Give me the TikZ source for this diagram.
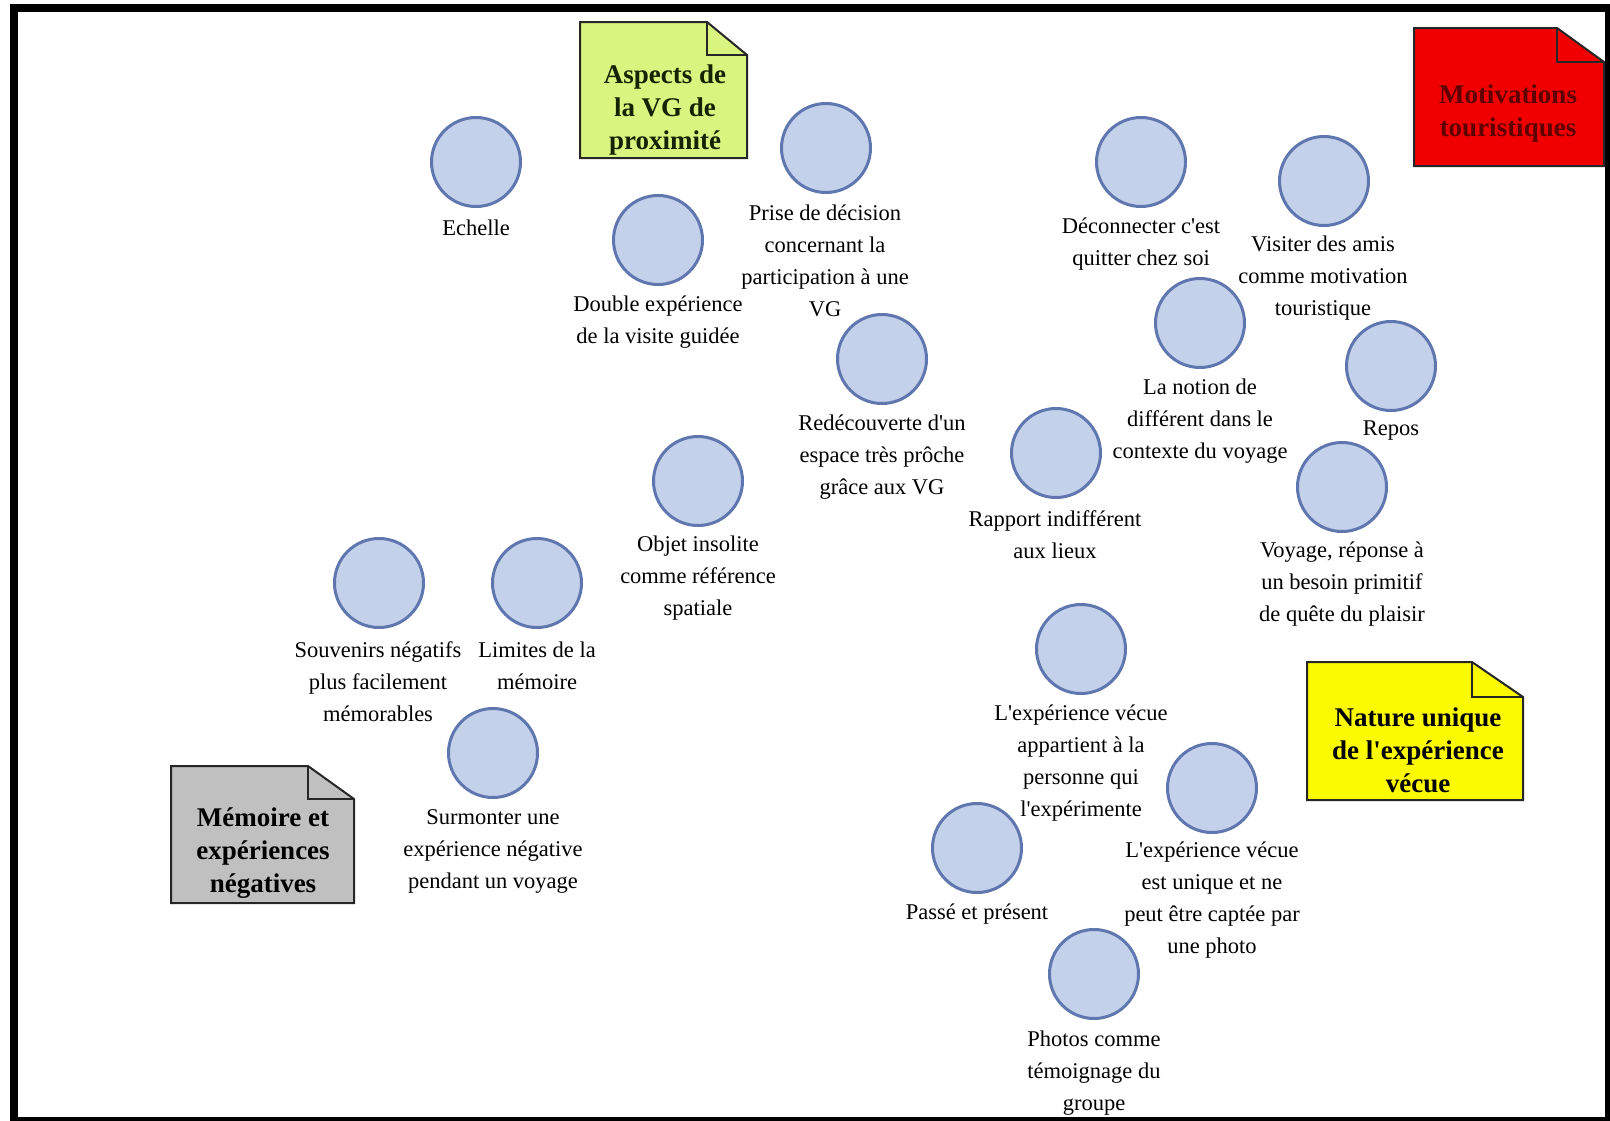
\documentclass[tikz,border=0pt]{standalone}
\usepackage{fontspec}
\setmainfont{Liberation Serif}[Ligatures=TeXOff]
\definecolor{bubfill}{RGB}{196,209,235}
\definecolor{bubdraw}{RGB}{95,118,175}
\definecolor{notegreen}{RGB}{218,244,128}
\definecolor{noteyellow}{RGB}{252,250,0}
\definecolor{notegray}{RGB}{192,192,192}
\definecolor{notered}{RGB}{240,0,0}
\definecolor{darkred}{RGB}{95,0,0}
\definecolor{darkgreentext}{RGB}{20,35,0}
\newcommand\dognote[7]{%
  \draw[notebox, fill=#1] (#2,#3) -- (#6,#3) -- (#4,#7) -- (#4,#5) -- (#2,#5) -- cycle;
  \draw[notebox] (#6,#3) -- (#6,#7) -- (#4,#7);}
\tikzset{
  bub/.style={circle, draw=bubdraw, fill=bubfill, line width=3pt, minimum size=89pt, inner sep=0pt},
  lbl/.style={align=center, inner sep=0pt, font=\fontsize{22.5}{32}\selectfont},
  notebox/.style={draw=black!85, line width=2pt, line join=miter},
  notetxt/.style={align=center, inner sep=0pt, font=\fontsize{27}{33}\selectfont\bfseries},
}
\begin{document}
\begin{tikzpicture}[x=1pt,y=-1pt]
\useasboundingbox (0,0) rectangle (1610,1120);
\fill[white] (0,0) rectangle (1610,1120);
\draw[line width=8pt] (14,8) rectangle (1609,1121);

% notes
\dognote{notegreen}{580}{22}{747}{158}{707}{55}
\node[notetxt, text=darkgreentext] (nAspects) at (665,110) {Aspects de\\la VG de\\proximité};
\dognote{notered}{1414}{28}{1604}{166}{1557}{62}
\node[notetxt, text=darkred] (nMotiv) at (1508,114) {Motivations\\touristiques};
\dognote{noteyellow}{1307}{662}{1523}{800}{1472}{697}
\node[notetxt, text=black] (nNature) at (1418,750) {Nature unique\\de l'expérience\\vécue};
\dognote{notegray}{171}{766}{354}{903}{308}{799}
\node[notetxt, text=black] (nMemoire) at (263,853) {Mémoire et\\expériences\\négatives};

% bubbles and labels
\node[bub] (c1) at (476,162) {};
\node[lbl] (l1) at (476,228) {Echelle};
\node[bub] (c2) at (658,240) {};
\node[lbl] (l2) at (658,322) {Double expérience\\de la visite guidée};
\node[bub] (c3) at (826,148) {};
\node[lbl] (l3) at (825,261) {Prise de décision\\concernant la\\participation à une\\VG};
\node[bub] (c4) at (882,359) {};
\node[lbl] (l4) at (882,457) {Redécouverte d'un\\espace très prôche\\grâce aux VG};
\node[bub] (c5) at (698,481) {};
\node[lbl] (l5) at (698,578) {Objet insolite\\comme référence\\spatiale};
\node[bub] (c6) at (379,583) {};
\node[lbl] (l6) at (378,682) {Souvenirs négatifs\\plus facilement\\mémorables};
\node[bub] (c7) at (537,583) {};
\node[lbl] (l7) at (537,666) {Limites de la\\mémoire};
\node[bub] (c8) at (493,753) {};
\node[lbl] (l8) at (493,851) {Surmonter une\\expérience négative\\pendant un voyage};
\node[bub] (c9) at (1141,162) {};
\node[lbl] (l9) at (1141,244) {Déconnecter c'est\\quitter chez soi};
\node[bub] (c10) at (1324,181) {};
\node[lbl] (l10) at (1323,278) {Visiter des amis\\comme motivation\\touristique};
\node[bub] (c11) at (1200,323) {};
\node[lbl] (l11) at (1200,421) {La notion de\\différent dans le\\contexte du voyage};
\node[bub] (c12) at (1391,366) {};
\node[lbl] (l12) at (1391,431) {Repos};
\node[bub] (c13) at (1056,453) {};
\node[lbl] (l13) at (1055,535) {Rapport indifférent\\aux lieux};
\node[bub] (c14) at (1342,487) {};
\node[lbl] (l14) at (1342,584) {Voyage, réponse à\\un besoin primitif\\de quête du plaisir};
\node[bub] (c15) at (1081,649) {};
\node[lbl] (l15) at (1081,763) {L'expérience vécue\\appartient à la\\personne qui\\l'expérimente};
\node[bub] (c16) at (1212,788) {};
\node[lbl] (l16) at (1212,900) {L'expérience vécue\\est unique et ne\\peut être captée par\\une photo};
\node[bub] (c17) at (977,848) {};
\node[lbl] (l17) at (977,914) {Passé et présent};
\node[bub] (c18) at (1094,974) {};
\node[lbl] (l18) at (1094,1073) {Photos comme\\témoignage du\\groupe};
\end{tikzpicture}
\end{document}
